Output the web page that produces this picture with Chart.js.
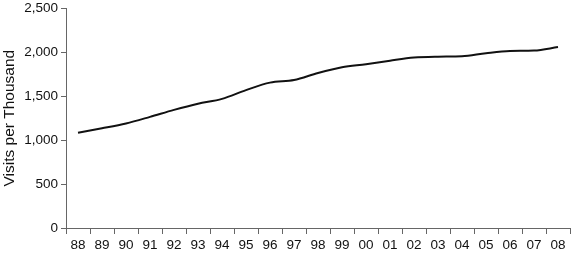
<!DOCTYPE html>
<html>
<head>
<meta charset="utf-8">
<script src="https://cdn.jsdelivr.net/npm/chart.js@4/dist/chart.umd.min.js"></script>
<style>
html,body{margin:0;padding:0;background:#fff;}
#wrap{width:571px;height:256px;position:relative;}
</style>
</head>
<body>
<div id="wrap"><canvas id="c"></canvas></div>
<script>
const years = ["88","89","90","91","92","93","94","95","96","97","98","99","00","01","02","03","04","05","06","07","08"];
const visits = [1085,1135,1190,1265,1345,1415,1470,1570,1655,1685,1765,1830,1865,1905,1940,1950,1955,1990,2015,2020,2060];
const yTicks = [0,500,1000,1500,2000,2500];

const axisColor = '#666';
new Chart(document.getElementById('c'), {
  type: 'line',
  data: {
    labels: years,
    datasets: [{
      data: visits,
      borderColor: '#111',
      borderWidth: 2,
      pointRadius: 0,
      tension: 0.4,
      cubicInterpolationMode: 'monotone',
      fill: false
    }]
  },
  options: {
    responsive: true,
    maintainAspectRatio: false,
    animation: false,
    devicePixelRatio: 1,
    layout: { padding: { top: 0, right: 1, left: 0, bottom: 0 } },
    plugins: { legend: { display: false }, tooltip: { enabled: false } },
    scales: {
      x: {
        type: 'category',
        offset: true,
        grid: { offset: true, drawOnChartArea: false, drawTicks: true, tickLength: 6, color: axisColor },
        border: { color: axisColor, width: 1 },
        ticks: { color: '#111', font: { family: 'Liberation Sans, Arial, sans-serif', size: 13.5 }, padding: 3, maxRotation: 0, autoSkip: false },
        afterFit: s => { s.height = 28; }
      },
      y: {
        min: 0, max: 2500,
        afterBuildTicks: s => { s.ticks = yTicks.map(v => ({ value: v })); },
        grid: { drawOnChartArea: false, drawTicks: true, tickLength: 5, color: axisColor },
        border: { color: axisColor, width: 1 },
        ticks: {
          color: '#111',
          font: { family: 'Liberation Sans, Arial, sans-serif', size: 13.5, lineHeight: 0.8 },
          padding: 3,
          callback: v => v.toLocaleString('en-US')
        },
        title: { display: true, text: 'Visits per Thousand', color: '#111', font: { family: 'Liberation Sans, Arial, sans-serif', size: 15.5 }, padding: { top: 0, bottom: 2 } },
        afterFit: s => { s.width = 66; }
      }
    }
  }
});
</script>
</body>
</html>
